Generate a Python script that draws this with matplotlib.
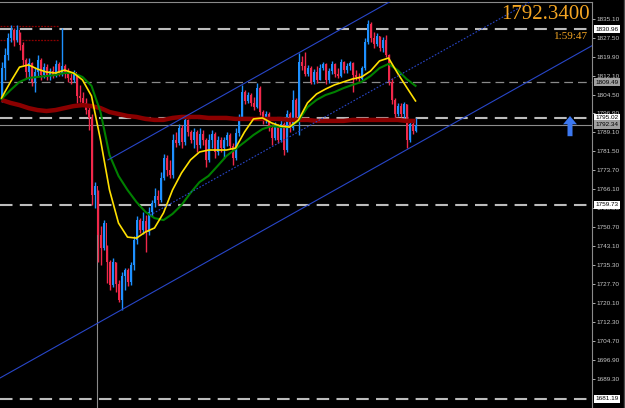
import numpy as np
import matplotlib
matplotlib.use('Agg')
import matplotlib.pyplot as plt
from matplotlib.lines import Line2D

plt.rcParams['font.family'] = ['Liberation Sans', 'DejaVu Sans']

# ---------------- data (prices) ----------------
first_open = 1802.3
closes = [1815.2, 1820.5, 1827.4, 1830.6, 1826.6, 1830.6, 1824.6, 1818.5, 1813.6, 1817.3,
          1809.6, 1813.6, 1818.5, 1812.4, 1815.6, 1812.0, 1814.0, 1812.4, 1816.9, 1813.2,
          1816.1, 1812.8, 1811.2, 1810.4, 1813.6, 1803.9, 1803.1, 1801.1, 1798.2, 1795.0,
          1763.8, 1767.4, 1747.6, 1742.3, 1752.4, 1736.6, 1727.3, 1736.6, 1727.7, 1721.2,
          1730.9, 1733.4, 1728.5, 1735.4, 1745.5, 1753.6, 1749.6, 1753.2, 1748.8, 1756.9,
          1760.5, 1763.4, 1761.7, 1770.7, 1778.8, 1773.9, 1771.9, 1786.1, 1784.8, 1790.9,
          1785.2, 1794.2, 1789.3, 1786.1, 1789.3, 1784.0, 1788.5, 1786.1, 1778.0, 1786.1,
          1788.5, 1781.2, 1786.1, 1782.8, 1786.1, 1788.1, 1783.6, 1778.8, 1788.9, 1795.0,
          1805.5, 1801.9, 1804.3, 1801.1, 1799.4, 1807.1, 1797.4, 1793.8, 1796.6, 1790.9,
          1786.9, 1791.7, 1786.1, 1792.6, 1782.0, 1796.6, 1790.9, 1802.3, 1795.0, 1817.7,
          1816.1, 1812.8, 1815.2, 1809.6, 1813.6, 1810.4, 1815.2, 1816.9, 1810.4, 1814.0,
          1816.9, 1812.8, 1812.0, 1817.7, 1814.4, 1816.1, 1817.3, 1812.4, 1811.6, 1810.8,
          1815.2, 1825.8, 1833.1, 1827.4, 1825.0, 1828.2, 1823.3, 1826.6, 1820.5, 1809.6,
          1802.3, 1796.6, 1799.8, 1796.6, 1800.7, 1786.1, 1792.6, 1789.7, 1792.34]
highs = [1817.7, 1823.3, 1829.4, 1832.7, 1831.5, 1832.7, 1829.8, 1825.8, 1819.3, 1819.3,
         1817.7, 1815.2, 1820.5, 1819.3, 1817.3, 1816.9, 1815.2, 1816.1, 1818.5, 1817.7,
         1831.5, 1816.9, 1815.2, 1813.6, 1814.4, 1812.8, 1808.4, 1805.5, 1803.1, 1799.8,
         1796.6, 1769.0, 1765.8, 1751.2, 1753.6, 1743.5, 1737.4, 1738.2, 1736.6, 1729.3,
         1732.6, 1734.2, 1734.2, 1736.6, 1747.2, 1755.2, 1754.4, 1756.9, 1755.7, 1758.9,
         1761.7, 1766.6, 1765.8, 1773.1, 1780.4, 1780.0, 1778.0, 1788.5, 1789.3, 1792.6,
         1792.1, 1795.4, 1794.6, 1790.1, 1790.9, 1790.1, 1790.9, 1790.1, 1786.9, 1788.5,
         1790.1, 1789.3, 1787.7, 1787.3, 1787.3, 1789.3, 1788.9, 1784.8, 1790.9, 1796.6,
         1808.4, 1806.3, 1805.5, 1805.1, 1803.5, 1809.2, 1808.0, 1798.2, 1797.8, 1797.4,
         1792.6, 1793.4, 1792.6, 1794.2, 1793.4, 1798.2, 1797.4, 1806.3, 1803.1, 1821.3,
         1820.1, 1821.7, 1816.5, 1816.1, 1814.8, 1816.1, 1816.9, 1817.7, 1817.3, 1815.2,
         1818.1, 1817.3, 1815.2, 1818.9, 1818.1, 1817.3, 1818.1, 1817.7, 1814.4, 1813.2,
         1816.1, 1827.4, 1834.7, 1833.9, 1829.8, 1829.4, 1828.2, 1827.8, 1828.6, 1820.9,
         1811.2, 1803.1, 1801.1, 1801.1, 1801.5, 1800.7, 1794.2, 1793.4, 1795.0]
lows = [1801.5, 1810.4, 1818.5, 1825.8, 1824.2, 1825.8, 1822.5, 1816.5, 1811.2, 1810.4,
        1808.0, 1805.5, 1812.0, 1810.4, 1811.2, 1810.4, 1810.4, 1811.2, 1811.6, 1812.0,
        1812.0, 1811.2, 1809.6, 1808.8, 1809.6, 1801.1, 1801.5, 1799.8, 1796.6, 1790.1,
        1759.7, 1758.5, 1736.6, 1735.4, 1741.5, 1728.1, 1725.3, 1726.5, 1724.5, 1720.4,
        1717.2, 1725.3, 1726.9, 1727.3, 1733.4, 1743.9, 1748.4, 1748.0, 1740.7, 1747.6,
        1755.2, 1758.9, 1759.7, 1760.9, 1769.8, 1771.5, 1770.7, 1770.7, 1783.2, 1784.0,
        1782.8, 1784.0, 1787.7, 1784.8, 1782.8, 1781.2, 1782.8, 1784.0, 1775.1, 1777.1,
        1782.8, 1778.8, 1780.0, 1781.2, 1778.8, 1783.6, 1782.4, 1775.9, 1778.0, 1787.7,
        1794.2, 1800.7, 1801.1, 1799.8, 1798.2, 1799.0, 1796.2, 1792.6, 1793.0, 1789.7,
        1784.0, 1786.1, 1784.8, 1785.2, 1780.0, 1781.2, 1789.3, 1790.1, 1793.8, 1788.1,
        1814.4, 1812.0, 1812.0, 1808.8, 1808.8, 1809.2, 1810.4, 1814.4, 1808.8, 1809.2,
        1812.8, 1811.6, 1811.2, 1811.6, 1813.2, 1813.2, 1814.4, 1805.5, 1810.4, 1809.6,
        1810.4, 1814.4, 1825.0, 1825.8, 1823.3, 1824.2, 1822.1, 1821.7, 1819.7, 1808.4,
        1800.7, 1795.0, 1795.8, 1795.4, 1795.0, 1782.8, 1785.2, 1788.5, 1789.3]

# moving averages sampled every 3 bars
ma_step = 3
ma_fast = [1803.1, 1809.6, 1815.6, 1816.5, 1814.8, 1813.6, 1813.2, 1814.4, 1813.2, 1810.4,
           1803.9, 1786.1, 1765.8, 1752.4, 1746.7, 1746.3, 1748.8, 1750.4, 1756.5, 1765.8,
           1772.7, 1778.0, 1781.2, 1782.0, 1782.0, 1782.0, 1782.8, 1789.3, 1794.6, 1795.0,
           1793.0, 1791.7, 1791.3, 1794.2, 1801.1, 1804.7, 1806.7, 1808.4, 1809.6, 1810.8,
           1811.6, 1814.0, 1818.1, 1819.3, 1813.2, 1807.5, 1801.9]
ma_mid = [1802.7, 1806.3, 1809.6, 1811.2, 1811.6, 1812.0, 1812.4, 1813.2, 1813.2, 1811.6,
          1808.0, 1797.4, 1780.0, 1771.5, 1765.8, 1760.9, 1756.9, 1754.4, 1753.6, 1756.1,
          1759.7, 1764.6, 1769.0, 1771.5, 1775.5, 1779.6, 1782.4, 1785.2, 1788.1, 1790.5,
          1791.7, 1791.3, 1791.3, 1793.8, 1799.4, 1802.3, 1804.3, 1805.5, 1807.1, 1808.4,
          1809.6, 1812.0, 1815.2, 1816.9, 1814.4, 1810.8, 1808.0]
ma_slow = [1802.3, 1801.1, 1800.2, 1799.0, 1798.2, 1797.8, 1798.2, 1799.0, 1799.8, 1800.2,
           1799.8, 1799.0, 1797.4, 1796.6, 1795.8, 1795.4, 1794.6, 1794.2, 1794.2, 1795.0,
           1795.4, 1795.4, 1795.4, 1795.0, 1795.0, 1795.0, 1794.6, 1794.6, 1794.6, 1794.6,
           1794.6, 1794.6, 1794.2, 1794.2, 1794.2, 1793.8, 1793.8, 1793.8, 1793.8, 1794.2,
           1794.2, 1794.2, 1794.2, 1794.2, 1794.2, 1793.8, 1793.8]

# channel (trend lines) anchors: (bar index, price)
lower_line_x = [-0.5, 197.0]
lower_line_p = [1689.6, 1824.4]
upper_line_x = [35.5, 197.0]
upper_line_p = [1778.0, 1888.2]
mid_line_x = [49.5, 197.0]
mid_line_p = [1755.6, 1856.3]

# horizontal levels
levels = [1830.96, 1809.49, 1795.02, 1759.73, 1681.19]
level_kind = ['main', 'minor', 'main', 'main', 'main']
bid = 1792.34
prev_hi_lo = [1832.3, 1826.6]
vline_bar = 31.8
vline_top = 1766.0

y_ticks = ['1835.10', '1827.50', '1819.90', '1812.10', '1804.50', '1796.90', '1789.10',
           '1781.50', '1773.70', '1766.10', '1758.50', '1750.70', '1743.10', '1735.30',
           '1727.70', '1720.10', '1712.30', '1704.70', '1696.90', '1689.30']

price_text = '1792.3400'
timer_text = '1:59:47'
arrow_bar = 189.5
arrow_from, arrow_to = 1787.6, 1795.8

# ---------------- plot ----------------
BULL = '#1E90FF'
BEAR = '#F0284A'

fig = plt.figure(figsize=(6.25, 4.08), dpi=100, facecolor='black')
ax = fig.add_axes([0, 0, 592 / 625, 406 / 408])
ax.set_facecolor('black')

n = len(closes)
idx = np.arange(n)
c = np.array(closes)
o = np.concatenate([[first_open], c[:-1]])
h = np.array(highs)
l = np.array(lows)
cols = [BULL if cc >= oo else BEAR for cc, oo in zip(c, o)]

# levels
for lv, kind in zip(levels, level_kind):
    if kind == 'main':
        ax.axhline(lv, color='#bcbcbc', lw=1.5, ls=(0, (6, 3.5)), zorder=1)
    else:
        ax.axhline(lv, color='#8a8a8a', lw=0.9, ls=(0, (7, 4)), zorder=1)
ax.axhline(bid, color='#8c8c8c', lw=0.8, zorder=1)
for p in prev_hi_lo:
    ax.plot([-0.5, 19.2], [p, p], color='#8B0000', lw=0.9, ls=(0, (1.5, 1)), zorder=1)

ax.plot([vline_bar, vline_bar], [1600, vline_top], color='#8a8a8a', lw=0.8, zorder=1)

# candles
ax.vlines(idx, l, h, colors=cols, lw=1.0, zorder=2)
body_lo = np.minimum(o, c)
body_h = np.maximum(np.abs(c - o), 0.35)
ax.bar(idx, body_h, bottom=body_lo, width=0.6, color=cols, linewidth=0, zorder=2)

# moving averages
ma_idx = np.arange(0, n, ma_step)
ax.plot(ma_idx, ma_slow, color='#8B0000', lw=3.2, zorder=3, solid_capstyle='butt')
ax.plot(ma_idx, ma_mid, color='#008000', lw=1.5, zorder=3)
ax.plot(ma_idx, ma_fast, color='#FFE000', lw=1.2, zorder=3)

# channel
ax.plot(lower_line_x, lower_line_p, color='#2846C8', lw=0.8, zorder=4)
ax.plot(upper_line_x, upper_line_p, color='#2846C8', lw=0.8, zorder=4)
ax.plot(mid_line_x, mid_line_p, color='#2846C8', lw=0.8, ls=(0, (1.5, 1.5)), zorder=4)

# arrow
ax.annotate('', xy=(arrow_bar, arrow_to), xytext=(arrow_bar, arrow_from),
            arrowprops=dict(arrowstyle='simple,head_width=1.0,head_length=0.6,tail_width=0.36',
                            color='#3C78F0', mutation_scale=10, lw=0,
                            shrinkA=0, shrinkB=0), zorder=5)

ax.set_xlim(-0.5, 196.83)
ax.set_ylim(1677.44, 1841.99)
ax.set_xticks([])
ax.yaxis.tick_right()
ax.set_yticks([float(t) for t in y_ticks])
ax.set_yticklabels(y_ticks)
ax.tick_params(axis='y', colors='#c8c8c8', labelsize=4.6, length=2, width=0.6, pad=1.5)
for s in ['left', 'bottom']:
    ax.spines[s].set_visible(False)
for s in ['right', 'top']:
    ax.spines[s].set_color('#8a8a8a')
    ax.spines[s].set_linewidth(0.8)

# price boxes on axis
ytr = ax.get_yaxis_transform()
for lv, kind in zip(levels, level_kind):
    fc = 'white' if kind == 'main' else '#a0a0a0'
    ax.text(1.006, lv, f'{lv:.2f}', transform=ytr, fontsize=4.6, color='black',
            va='center', ha='left', clip_on=False, zorder=10,
            bbox=dict(boxstyle='square,pad=0.25', fc=fc, ec='none'))
ax.text(1.006, bid, f'{bid:.2f}', transform=ytr, fontsize=4.6, color='black',
        va='center', ha='left', clip_on=False, zorder=10,
        bbox=dict(boxstyle='square,pad=0.25', fc='#a0a0a0', ec='none'))

# top-right texts
ax.text(0.996, 0.968, price_text, transform=ax.transAxes, fontsize=15, color='#F5A623',
        family=['Liberation Serif', 'DejaVu Serif'], ha='right', va='center', zorder=10)
ax.text(0.993, 0.914, timer_text, transform=ax.transAxes, fontsize=8, color='#F5A623',
        family=['Liberation Serif', 'DejaVu Serif'], ha='right', va='center', zorder=10)

fig.add_artist(Line2D([623.5 / 625] * 2, [0, 1], transform=fig.transFigure,
                      color='#4a4a4a', lw=1))

fig.savefig('out.png', dpi=100, facecolor='black')
